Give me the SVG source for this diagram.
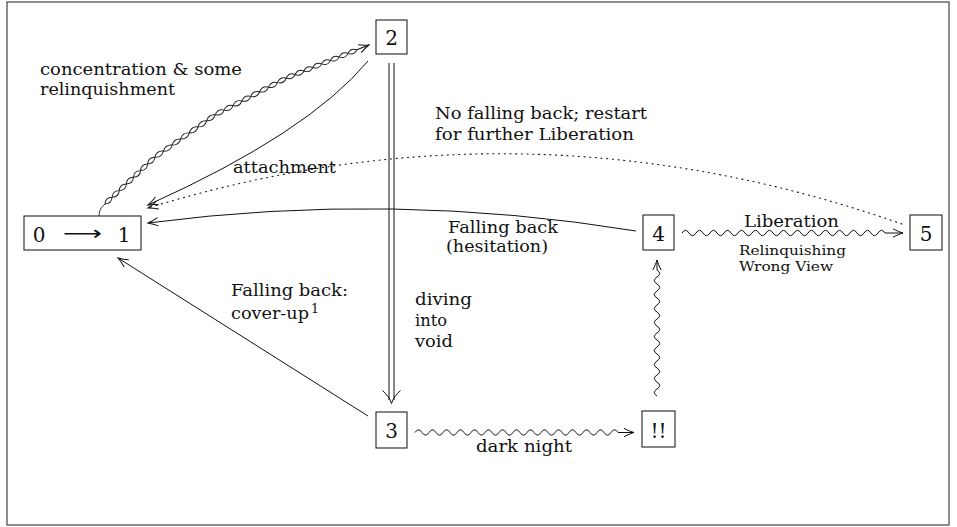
<svg xmlns="http://www.w3.org/2000/svg" width="957" height="527" viewBox="0 0 957 527">
<style>
.box{fill:#fff;stroke:#222;stroke-width:1.1}
.num{font-family:"DejaVu Serif",serif;font-size:20px;fill:#111}
.lbl{font-family:"DejaVu Serif",serif;font-size:16px;fill:#111}
.sm{font-family:"DejaVu Serif",serif;font-size:12.5px;fill:#111}
.ln{fill:none;stroke:#111;stroke-width:1}
.hx{fill:none;stroke:#222;stroke-width:0.95}
.dot{fill:none;stroke:#111;stroke-width:1.1;stroke-dasharray:1.1 4.6;stroke-linecap:round}
</style>
<defs>
<marker id="ah" markerUnits="userSpaceOnUse" orient="auto" overflow="visible" markerWidth="14" markerHeight="12">
<path d="M-10,-4.2 C-6,-2 -2,-0.6 0,0 C-2,0.6 -6,2 -10,4.2" fill="none" stroke="#111" stroke-width="1"/>
</marker>
</defs>
<rect x="7" y="2" width="942" height="523" fill="#fff" stroke="#444" stroke-width="1.2"/>

<g id="connectors">
<g id="e2-3">
<path d="M391.5,63 V400" stroke="#111" stroke-width="6" fill="none"/>
<path d="M391.5,63 V400" stroke="#fff" stroke-width="4" fill="none"/>
<path class="ln" d="M382.5,390.5 C386.5,394 390,398.5 391.5,403.5 C393,398.5 396.5,394 400.5,390.5"/>
</g>
<g id="e1-2">
<path class="hx" d="M99,216.5 C99,211 101,207 105,204"/>
<g transform="translate(105,204) rotate(-43.2)">
<path class="hx" d="M0,0 q4.879,-4.4 9.757,0 t9.757,0 t9.757,0 t9.757,0 t9.757,0 t9.757,0 t9.757,0"/>
<path class="hx" d="M0,0 q4.879,4.4 9.757,0 t9.757,0 t9.757,0 t9.757,0 t9.757,0 t9.757,0 t9.757,0"/>
</g>
<g transform="translate(154.8,157.2) rotate(-35.1)">
<path class="hx" d="M0,0 q5.279,-4.4 10.557,0 t10.557,0 t10.557,0 t10.557,0 t10.557,0 t10.557,0 t10.557,0"/>
<path class="hx" d="M0,0 q5.279,4.4 10.557,0 t10.557,0 t10.557,0 t10.557,0 t10.557,0 t10.557,0 t10.557,0"/>
</g>
<g transform="translate(215.25,114.75) rotate(-27.35)">
<path class="hx" d="M0,0 q5,-4.4 10,0 t10,0 t10,0 t10,0 t10,0 t10,0 t10,0 t10,0"/>
<path class="hx" d="M0,0 q5,4.4 10,0 t10,0 t10,0 t10,0 t10,0 t10,0 t10,0 t10,0"/>
</g>
<g transform="translate(286.3,78) rotate(-21.76)">
<path class="hx" d="M0,0 q4.75,-4.4 9.5,0 t9.5,0 t9.5,0 t9.5,0 t9.5,0 t9.5,0 t9.5,0 t9.5,0"/>
<path class="hx" d="M0,0 q4.75,4.4 9.5,0 t9.5,0 t9.5,0 t9.5,0 t9.5,0 t9.5,0 t9.5,0 t9.5,0"/>
<path class="ln" d="M76,0 L89,0" marker-end="url(#ah)"/>
</g>
</g>
<path id="e2-1" class="ln" d="M368,61 Q308,133 148,205" marker-end="url(#ah)"/>
<path id="e5-1" class="dot" d="M902,224 Q525,92 148,208" marker-end="url(#ah)"/>
<path id="e4-1" class="ln" d="M636,231 Q392,191 148,223" marker-end="url(#ah)"/>
<path id="e3-1" class="ln" d="M368,416 L118,258" marker-end="url(#ah)"/>
<path id="e3-x" class="ln" d="M415,432.5 q3.5,-5.4 7,0 t7,0 t7,0 t7,0 t7,0 t7,0 t7,0 t7,0 t7,0 t7,0 t7,0 t7,0 t7,0 t7,0 t7,0 t7,0 t7,0 t7,0 t7,0 t7,0 t7,0 t7,0 t7,0 t7,0 t7,0 t7,0 t7,0 t7,0 t7,0 L634,432.5" marker-end="url(#ah)"/>
<path id="ex-4" class="ln" d="M657,396 q-5.4,-3.5 0,-7 t0,-7 t0,-7 t0,-7 t0,-7 t0,-7 t0,-7 t0,-7 t0,-7 t0,-7 t0,-7 t0,-7 t0,-7 t0,-7 t0,-7 t0,-7 t0,-7 t0,-7 L657,260" marker-end="url(#ah)"/>
<path id="e4-5" class="ln" d="M682,233 q3.5,-5.4 7,0 t7,0 t7,0 t7,0 t7,0 t7,0 t7,0 t7,0 t7,0 t7,0 t7,0 t7,0 t7,0 t7,0 t7,0 t7,0 t7,0 t7,0 t7,0 t7,0 t7,0 t7,0 t7,0 t7,0 t7,0 t7,0 t7,0 t7,0 t7,0 L903,233" marker-end="url(#ah)"/>
</g>

<g id="labels">
<text class="lbl" x="40" y="75" textLength="202" lengthAdjust="spacingAndGlyphs">concentration &amp; some</text>
<text class="lbl" x="40" y="95" textLength="135" lengthAdjust="spacingAndGlyphs">relinquishment</text>
<text class="lbl" x="435" y="119" textLength="212" lengthAdjust="spacingAndGlyphs">No falling back; restart</text>
<text class="lbl" x="435" y="140" textLength="199" lengthAdjust="spacingAndGlyphs">for further Liberation</text>
<text class="lbl" x="233" y="173" textLength="103" lengthAdjust="spacingAndGlyphs">attachment</text>
<text class="lbl" x="448" y="232.5" textLength="110" lengthAdjust="spacingAndGlyphs">Falling back</text>
<text class="lbl" x="446" y="251.5" textLength="102" lengthAdjust="spacingAndGlyphs">(hesitation)</text>
<text class="lbl" x="744" y="227" textLength="95" lengthAdjust="spacingAndGlyphs">Liberation</text>
<text class="sm" x="739" y="255" textLength="107" lengthAdjust="spacingAndGlyphs">Relinquishing</text>
<text class="sm" x="739" y="271" textLength="94" lengthAdjust="spacingAndGlyphs">Wrong View</text>
<text class="lbl" x="231" y="296" textLength="117" lengthAdjust="spacingAndGlyphs">Falling back:</text>
<text class="lbl" x="231" y="319" textLength="78" lengthAdjust="spacingAndGlyphs">cover-up</text>
<text class="sm" x="311" y="313" font-size="9.5">1</text>
<text class="lbl" x="415" y="305" textLength="57" lengthAdjust="spacingAndGlyphs">diving</text>
<text class="lbl" x="415" y="326" textLength="32" lengthAdjust="spacingAndGlyphs">into</text>
<text class="lbl" x="415" y="347" textLength="38" lengthAdjust="spacingAndGlyphs">void</text>
<text class="lbl" x="476" y="452" textLength="96" lengthAdjust="spacingAndGlyphs">dark night</text>
</g>

<g id="n01">
<rect class="box" x="24" y="216" width="117" height="34"/>
<text class="num" x="39" y="241.5" text-anchor="middle">0</text>
<text class="num" x="63" y="240" textLength="39" lengthAdjust="spacingAndGlyphs" style="font-family:'DejaVu Sans',sans-serif">⟶</text>
<text class="num" x="124" y="241.5" text-anchor="middle">1</text>
</g>
<g id="n2">
<rect class="box" x="376" y="20" width="31" height="34"/>
<text class="num" x="391.5" y="45" text-anchor="middle">2</text>
</g>
<g id="n3">
<rect class="box" x="376" y="412" width="31" height="36"/>
<text class="num" x="391.5" y="438" text-anchor="middle">3</text>
</g>
<g id="n4">
<rect class="box" x="643" y="215" width="31" height="35"/>
<text class="num" x="658.5" y="240.5" text-anchor="middle">4</text>
</g>
<g id="n5">
<rect class="box" x="910" y="215" width="32" height="35"/>
<text class="num" x="926" y="240.5" text-anchor="middle">5</text>
</g>
<g id="nx">
<rect class="box" x="642" y="411" width="33" height="36"/>
<text class="num" x="658.5" y="437.5" text-anchor="middle">!!</text>
</g>
</svg>
